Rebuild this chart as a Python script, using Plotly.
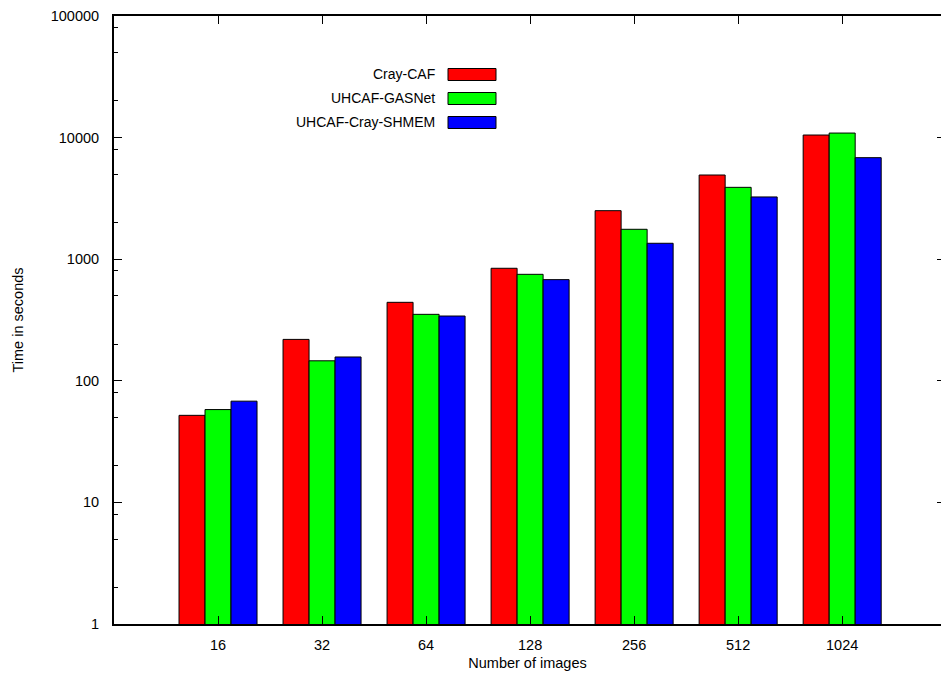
import plotly.graph_objects as go

categories = ["16", "32", "64", "128", "256", "512", "1024"]
cray_caf = [52, 219, 442, 842, 2506, 4924, 10500]
uhcaf_gasnet = [58, 146, 352, 751, 1762, 3899, 10900]
uhcaf_shmem = [68, 157, 341, 679, 1352, 3250, 6840]
series_names = ["Cray-CAF", "UHCAF-GASNet", "UHCAF-Cray-SHMEM"]
series_colors = ["#ff0000", "#00ff00", "#0000ff"]
y_tickvals = [1, 10, 100, 1000, 10000, 100000]
y_ticktext = ["1", "10", "100", "1000", "10000", "100000"]
minor_vals = [m * 10 ** d for d in range(0, 5) for m in (2, 5, 8)]

W, H = 941, 675
L, R, T, B = 114, 0, 16, 51
FONT = "Liberation Sans, Arial, sans-serif"

fig = go.Figure()
for name, vals, col in zip(series_names, [cray_caf, uhcaf_gasnet, uhcaf_shmem], series_colors):
    fig.add_trace(go.Bar(x=categories, y=vals, name=name, marker=dict(color=col, line=dict(color="black", width=1)),
                         showlegend=False))

# invisible trace to drive right-side mirror ticks
fig.add_trace(go.Scatter(x=[categories[0]], y=[1], yaxis="y2", mode="markers",
                         marker=dict(opacity=0), showlegend=False, hoverinfo="skip"))

pw = W - L - R
ph = H - T - B


def px(x):
    return (x - L) / pw


def py(y):
    return (H - B - y) / ph


shapes = []
annotations = []
rows = [74.5, 98.5, 122.5]
for name, col, yc in zip(series_names, series_colors, rows):
    shapes.append(dict(type="rect", xref="paper", yref="paper",
                       x0=px(448), x1=px(496), y0=py(yc + 6), y1=py(yc - 6),
                       fillcolor=col, line=dict(color="black", width=1)))
    annotations.append(dict(text=name, xref="paper", yref="paper", x=px(437), y=py(yc),
                            xanchor="right", yanchor="middle", showarrow=False,
                            font=dict(family=FONT, size=14, color="black")))

fig.update_layout(
    width=W, height=H,
    margin=dict(l=L, r=R, t=T, b=B, pad=0),
    paper_bgcolor="white", plot_bgcolor="white",
    barmode="group", bargap=0.25, bargroupgap=0,
    font=dict(family=FONT, size=14, color="black"),
    shapes=shapes, annotations=annotations,
    xaxis=dict(type="category", range=[-1, 6.95], showline=True, linecolor="black", linewidth=2,
               mirror="ticks", ticks="inside", ticklen=8, tickcolor="black", tickwidth=1,
               showgrid=False, zeroline=False, tickfont=dict(size=14.5), ticklabelstandoff=7,
               title=dict(text="Number of images", font=dict(size=14.5), standoff=5)),
    yaxis=dict(type="log", range=[0, 5], showline=True, linecolor="black", linewidth=2,
               mirror=False, ticks="inside", ticklen=8, tickcolor="black", tickwidth=1,
               tickvals=y_tickvals, ticktext=y_ticktext, showgrid=False, zeroline=False,
               tickfont=dict(size=14.5), ticklabelstandoff=10,
               minor=dict(tickvals=minor_vals, ticks="inside", ticklen=4, tickcolor="black", tickwidth=1),
               title=dict(text="Time in seconds", font=dict(size=14.5), standoff=24)),
    yaxis2=dict(type="log", range=[0, 5], overlaying="y", side="right", showline=False,
                ticks="inside", ticklen=4, tickcolor="black", tickwidth=1,
                tickvals=y_tickvals, showticklabels=False, showgrid=False, zeroline=False),
)

fig.write_html("out.html")
